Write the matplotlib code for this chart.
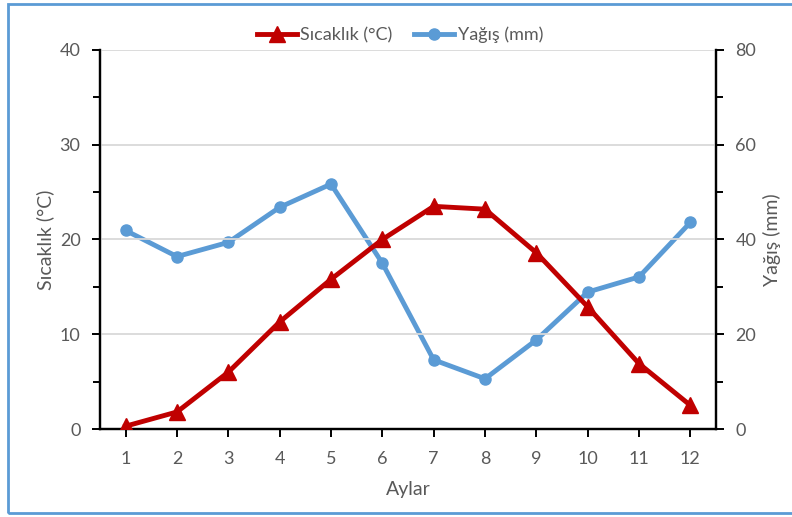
import matplotlib.pyplot as plt
from matplotlib.lines import Line2D
from matplotlib.patches import Rectangle
from matplotlib.ticker import MultipleLocator

plt.rcParams['font.family'] = ['Lato', 'DejaVu Sans']

months = [1, 2, 3, 4, 5, 6, 7, 8, 9, 10, 11, 12]
temperature = [0.3, 1.8, 6.0, 11.3, 15.8, 20.0, 23.5, 23.2, 18.6, 12.9, 6.9, 2.5]
precipitation = [41.9, 36.4, 39.4, 46.8, 51.7, 35.0, 14.6, 10.6, 18.8, 28.9, 32.1, 43.6]

temp_label = "Sıcaklık (°C)"
prec_label = "Yağış (mm)"
x_label = "Aylar"

red = "#C00000"
blue = "#5B9BD5"
text_gray = "#595959"

W, H = 792, 517
fig = plt.figure(figsize=(W / 100, H / 100), dpi=100)

# outer chart-area frame
fig.patches.append(Rectangle((8 / W, 4 / H), 1.2, (H - 8) / H, transform=fig.transFigure,
                             fill=False, edgecolor=blue, linewidth=2, zorder=0))

ax = fig.add_axes([100 / W, 1 - 429 / H, (716 - 100) / W, (429 - 50) / H])
ax2 = ax.twinx()

ax.set_xlim(0.5, 12.5)
ax.set_ylim(0, 40)
ax2.set_ylim(0, 80)

ax.grid(axis='y', color='#D9D9D9', linewidth=1.3)
ax.set_axisbelow(True)

ax.yaxis.set_major_locator(MultipleLocator(10))
ax.yaxis.set_minor_locator(MultipleLocator(5))
ax2.yaxis.set_major_locator(MultipleLocator(20))
ax2.yaxis.set_minor_locator(MultipleLocator(10))
ax.set_xticks(months)

for a in (ax, ax2):
    for s in a.spines.values():
        s.set_linewidth(1.6)
        s.set_color('black')
    a.spines['top'].set_visible(False)
    a.tick_params(which='major', length=6, width=1.4, color='black',
                  labelsize=13, labelcolor=text_gray)
    a.tick_params(which='minor', length=5, width=1.4, color='black')
ax.tick_params(axis='y', pad=8)
ax2.tick_params(axis='y', pad=8)
ax.tick_params(axis='x', pad=10)

ax2.plot(months, precipitation, color=blue, linewidth=3.5, marker='o',
         markersize=8, zorder=3)
ax.plot(months, temperature, color=red, linewidth=3.5, marker='^',
        markersize=11, zorder=3)
ax.set_zorder(ax2.get_zorder() + 1)
ax.patch.set_visible(False)

ax.set_ylabel(temp_label, fontsize=14, color=text_gray, labelpad=4)
ax2.set_ylabel(prec_label, fontsize=14, color=text_gray, labelpad=5)
ax.set_xlabel(x_label, fontsize=14, color=text_gray, labelpad=10)

handles = [Line2D([], [], color=red, linewidth=3.5, marker='^', markersize=11),
           Line2D([], [], color=blue, linewidth=3.5, marker='o', markersize=8)]
fig.legend(handles, [temp_label, prec_label], loc='center',
           bbox_to_anchor=(400 / W, 1 - 35 / H), ncol=2, frameon=False,
           fontsize=13, labelcolor=text_gray, handlelength=2.2,
           handletextpad=0.2, columnspacing=1.2)

fig.savefig("out.png", dpi=100)
